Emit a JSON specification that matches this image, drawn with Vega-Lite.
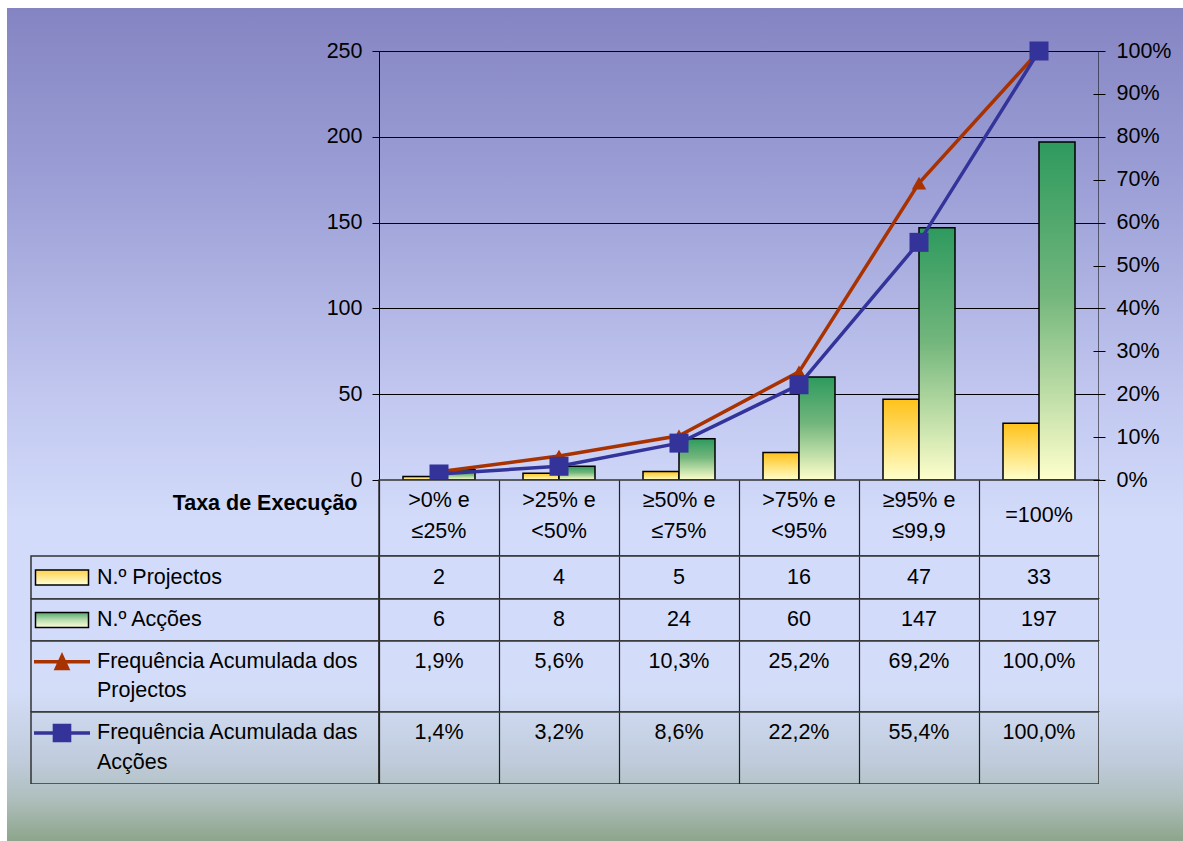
{
  "$schema": "https://vega.github.io/schema/vega-lite/v6.json",
  "background": "white",
  "padding": {"left": 7, "top": 8, "right": 0, "bottom": 0},
  "config": {
    "view": {"stroke": null},
    "font": "Liberation Sans",
    "text": {"font": "Liberation Sans", "color": "black", "fontSize": 21.5},
    "axis": {"labelFont": "Liberation Sans", "labelColor": "black"},
    "locale": {"number": {"decimal": ",", "thousands": ".", "grouping": [3], "currency": ["", " €"]}}
  },
  "datasets": {
    "counts": [
      {"cat": ">0% e\n≤25%", "serie": "N.º Projectos", "n": 2},
      {"cat": ">25% e\n<50%", "serie": "N.º Projectos", "n": 4},
      {"cat": "≥50% e\n≤75%", "serie": "N.º Projectos", "n": 5},
      {"cat": ">75% e\n<95%", "serie": "N.º Projectos", "n": 16},
      {"cat": "≥95% e\n≤99,9", "serie": "N.º Projectos", "n": 47},
      {"cat": "=100%", "serie": "N.º Projectos", "n": 33},
      {"cat": ">0% e\n≤25%", "serie": "N.º Acções", "n": 6},
      {"cat": ">25% e\n<50%", "serie": "N.º Acções", "n": 8},
      {"cat": "≥50% e\n≤75%", "serie": "N.º Acções", "n": 24},
      {"cat": ">75% e\n<95%", "serie": "N.º Acções", "n": 60},
      {"cat": "≥95% e\n≤99,9", "serie": "N.º Acções", "n": 147},
      {"cat": "=100%", "serie": "N.º Acções", "n": 197}
    ],
    "freq": [
      {"cat": ">0% e\n≤25%", "serie": "Frequência Acumulada dos Projectos", "f": 0.019},
      {"cat": ">25% e\n<50%", "serie": "Frequência Acumulada dos Projectos", "f": 0.056},
      {"cat": "≥50% e\n≤75%", "serie": "Frequência Acumulada dos Projectos", "f": 0.103},
      {"cat": ">75% e\n<95%", "serie": "Frequência Acumulada dos Projectos", "f": 0.252},
      {"cat": "≥95% e\n≤99,9", "serie": "Frequência Acumulada dos Projectos", "f": 0.692},
      {"cat": "=100%", "serie": "Frequência Acumulada dos Projectos", "f": 1.0},
      {"cat": ">0% e\n≤25%", "serie": "Frequência Acumulada das Acções", "f": 0.014},
      {"cat": ">25% e\n<50%", "serie": "Frequência Acumulada das Acções", "f": 0.032},
      {"cat": "≥50% e\n≤75%", "serie": "Frequência Acumulada das Acções", "f": 0.086},
      {"cat": ">75% e\n<95%", "serie": "Frequência Acumulada das Acções", "f": 0.222},
      {"cat": "≥95% e\n≤99,9", "serie": "Frequência Acumulada das Acções", "f": 0.554},
      {"cat": "=100%", "serie": "Frequência Acumulada das Acções", "f": 1.0}
    ],
    "legend": [
      {"row": "p", "line": "1", "t": "N.º Projectos"},
      {"row": "a", "line": "1", "t": "N.º Acções"},
      {"row": "fp", "line": "1", "t": "Frequência Acumulada dos"},
      {"row": "fp", "line": "2", "t": "Projectos"},
      {"row": "fa", "line": "1", "t": "Frequência Acumulada das"},
      {"row": "fa", "line": "2", "t": "Acções"}
    ]
  },
  "columns": 4,
  "spacing": 0,
  "bounds": "flush",
  "align": "each",
  "concat": [
    {"width": 24, "height": 43, "view": {"fill": {"gradient": "linear", "x1": 0, "y1": 0, "x2": 0, "y2": 1, "stops": [{"offset": 0, "color": "#8484C2"}, {"offset": 1, "color": "#8A8BC7"}]}}, "data": {"values": []}, "mark": "text", "encoding": {}},
    {"width": 348, "height": 43, "view": {"fill": {"gradient": "linear", "x1": 0, "y1": 0, "x2": 0, "y2": 1, "stops": [{"offset": 0, "color": "#8484C2"}, {"offset": 1, "color": "#8A8BC7"}]}}, "data": {"values": []}, "mark": "text", "encoding": {}},
    {"width": 720, "height": 43, "view": {"fill": {"gradient": "linear", "x1": 0, "y1": 0, "x2": 0, "y2": 1, "stops": [{"offset": 0, "color": "#8484C2"}, {"offset": 1, "color": "#8A8BC7"}]}}, "data": {"values": []}, "mark": "text", "encoding": {}},
    {"width": 84, "height": 43, "view": {"fill": {"gradient": "linear", "x1": 0, "y1": 0, "x2": 0, "y2": 1, "stops": [{"offset": 0, "color": "#8484C2"}, {"offset": 1, "color": "#8A8BC7"}]}}, "data": {"values": []}, "mark": "text", "encoding": {}},

    {"width": 24, "height": 429, "view": {"fill": {"gradient": "linear", "x1": 0, "y1": 0, "x2": 0, "y2": 1, "stops": [{"offset": 0, "color": "#8A8BC7"}, {"offset": 0.3473, "color": "#9EA2D8"}, {"offset": 0.8135, "color": "#C2C8F0"}, {"offset": 1, "color": "#CDD5F7"}]}}, "data": {"values": []}, "mark": "text", "encoding": {}},
    {"width": 348, "height": 429, "view": {"fill": {"gradient": "linear", "x1": 0, "y1": 0, "x2": 0, "y2": 1, "stops": [{"offset": 0, "color": "#8A8BC7"}, {"offset": 0.3473, "color": "#9EA2D8"}, {"offset": 0.8135, "color": "#C2C8F0"}, {"offset": 1, "color": "#CDD5F7"}]}}, "data": {"values": []}, "mark": "text", "encoding": {}},
    {
      "width": 720, "height": 429,
      "view": {"fill": {"gradient": "linear", "x1": 0, "y1": 0, "x2": 0, "y2": 1, "stops": [{"offset": 0, "color": "#8A8BC7"}, {"offset": 0.3473, "color": "#9EA2D8"}, {"offset": 0.8135, "color": "#C2C8F0"}, {"offset": 1, "color": "#CDD5F7"}]}},
      "layer": [
        {
          "data": {"name": "counts"},
          "layer": [
            {
              "transform": [{"filter": "datum.serie === 'N.º Projectos'"}],
              "mark": {"type": "bar", "fill": {"gradient": "linear", "x1": 0, "y1": 0, "x2": 0, "y2": 1, "stops": [{"offset": 0, "color": "#FFC21A"}, {"offset": 1, "color": "#FFFFCC"}]}, "stroke": "black", "strokeWidth": 1.5},
              "encoding": {
                "x": {"field": "cat", "type": "nominal", "scale": {"type": "band", "domain": [">0% e\n≤25%", ">25% e\n<50%", "≥50% e\n≤75%", ">75% e\n<95%", "≥95% e\n≤99,9", "=100%"], "paddingInner": 0, "paddingOuter": 0}, "axis": null},
                "xOffset": {"field": "serie", "type": "nominal", "scale": {"domain": ["N.º Projectos", "N.º Acções"], "paddingInner": 0, "paddingOuter": 0.667}},
                "y": {"field": "n", "type": "quantitative", "scale": {"domain": [0, 250], "nice": false}, "axis": {"orient": "left", "title": null, "values": [50, 100, 150, 200, 250], "tickSize": 7, "tickColor": "black", "labelPadding": 10, "labelFontSize": 21.5, "grid": true, "gridColor": "black", "gridWidth": 1, "domain": true, "domainColor": "black"}}
              }
            },
            {
              "transform": [{"filter": "datum.serie === 'N.º Acções'"}],
              "mark": {"type": "bar", "fill": {"gradient": "linear", "x1": 0, "y1": 0, "x2": 0, "y2": 1, "stops": [{"offset": 0, "color": "#2E9A5E"}, {"offset": 0.45, "color": "#72B67C"}, {"offset": 1, "color": "#FFFFCC"}]}, "stroke": "black", "strokeWidth": 1.5},
              "encoding": {
                "x": {"field": "cat", "type": "nominal", "scale": {"type": "band", "domain": [">0% e\n≤25%", ">25% e\n<50%", "≥50% e\n≤75%", ">75% e\n<95%", "≥95% e\n≤99,9", "=100%"], "paddingInner": 0, "paddingOuter": 0}, "axis": null},
                "xOffset": {"field": "serie", "type": "nominal", "scale": {"domain": ["N.º Projectos", "N.º Acções"], "paddingInner": 0, "paddingOuter": 0.667}},
                "y": {"field": "n", "type": "quantitative"}
              }
            }
          ]
        },
        {
          "data": {"name": "freq"},
          "layer": [
            {
              "transform": [{"filter": "datum.serie === 'Frequência Acumulada dos Projectos'"}],
              "mark": {"type": "line", "color": "#A83200", "strokeWidth": 3.5},
              "encoding": {
                "x": {"field": "cat", "type": "nominal", "scale": {"type": "band", "domain": [">0% e\n≤25%", ">25% e\n<50%", "≥50% e\n≤75%", ">75% e\n<95%", "≥95% e\n≤99,9", "=100%"], "paddingInner": 0, "paddingOuter": 0}, "axis": null},
                "y": {"field": "f", "type": "quantitative", "scale": {"domain": [0, 1], "nice": false}, "axis": {"orient": "right", "title": null, "labels": false, "ticks": false, "grid": false, "domain": true, "domainColor": "black", "offset": -0.5}}
              }
            },
            {
              "transform": [{"filter": "datum.serie === 'Frequência Acumulada dos Projectos'"}],
              "mark": {"type": "point", "shape": "triangle-up", "filled": true, "color": "#A83200", "size": 210, "opacity": 1},
              "encoding": {"x": {"field": "cat", "type": "nominal"}, "y": {"field": "f", "type": "quantitative"}}
            },
            {
              "transform": [{"filter": "datum.serie === 'Frequência Acumulada das Acções'"}],
              "mark": {"type": "line", "color": "#333399", "strokeWidth": 3.5},
              "encoding": {"x": {"field": "cat", "type": "nominal"}, "y": {"field": "f", "type": "quantitative"}}
            },
            {
              "transform": [{"filter": "datum.serie === 'Frequência Acumulada das Acções'"}],
              "mark": {"type": "point", "shape": "square", "filled": true, "color": "#333399", "size": 361, "opacity": 1},
              "encoding": {"x": {"field": "cat", "type": "nominal"}, "y": {"field": "f", "type": "quantitative"}}
            }
          ]
        }
      ],
      "resolve": {"scale": {"y": "independent"}, "axis": {"y": "independent"}}
    },
    {
      "width": 84, "height": 429,
      "view": {"fill": {"gradient": "linear", "x1": 0, "y1": 0, "x2": 0, "y2": 1, "stops": [{"offset": 0, "color": "#8A8BC7"}, {"offset": 0.3473, "color": "#9EA2D8"}, {"offset": 0.8135, "color": "#C2C8F0"}, {"offset": 1, "color": "#CDD5F7"}]}},
      "data": {"name": "freq"},
      "mark": {"type": "point", "opacity": 0, "size": 0},
      "encoding": {
        "y": {"field": "f", "type": "quantitative", "scale": {"domain": [0, 1], "nice": false, "zero": false}, "axis": {"orient": "right", "offset": -90, "title": null, "values": [0.1, 0.2, 0.3, 0.4, 0.5, 0.6, 0.7, 0.8, 0.9, 1], "format": ".0%", "tickSize": 12, "tickColor": "black", "tickWidth": 1, "labelPadding": 11, "labelFontSize": 21.5, "labelColor": "black", "labelFlush": false, "domain": false, "grid": false}}
      }
    },

    {"width": 24, "height": 76, "view": {"fill": {"gradient": "linear", "x1": 0, "y1": 0, "x2": 0, "y2": 1, "stops": [{"offset": 0, "color": "#CDD5F7"}, {"offset": 0.526, "color": "#D3DBFA"}, {"offset": 1, "color": "#D3DBFA"}]}}, "data": {"values": []}, "mark": "text", "encoding": {}},
    {
      "width": 348, "height": 76,
      "view": {"fill": {"gradient": "linear", "x1": 0, "y1": 0, "x2": 0, "y2": 1, "stops": [{"offset": 0, "color": "#CDD5F7"}, {"offset": 0.526, "color": "#D3DBFA"}, {"offset": 1, "color": "#D3DBFA"}]}},
      "data": {"values": []},
      "mark": {"type": "point", "opacity": 0},
      "encoding": {
        "y": {"datum": 0, "type": "quantitative", "scale": {"domain": [-1, 0], "nice": false, "zero": false}, "axis": {"orient": "left", "offset": -348, "title": null, "values": [0], "tickSize": 7, "tickColor": "black", "labelPadding": 10, "labelFontSize": 21.5, "labelColor": "black", "labelFlush": false, "domain": false, "grid": false}}
      }
    },
    {
      "width": 720, "height": 76,
      "view": {"fill": {"gradient": "linear", "x1": 0, "y1": 0, "x2": 0, "y2": 1, "stops": [{"offset": 0, "color": "#CDD5F7"}, {"offset": 0.526, "color": "#D3DBFA"}, {"offset": 1, "color": "#D3DBFA"}]}, "stroke": "#333333", "strokeWidth": 1.5},
      "data": {"name": "counts"},
      "transform": [{"filter": "datum.serie === 'N.º Projectos'"}],
      "encoding": {
        "x": {"field": "cat", "type": "nominal", "scale": {"type": "band", "domain": [">0% e\n≤25%", ">25% e\n<50%", "≥50% e\n≤75%", ">75% e\n<95%", "≥95% e\n≤99,9", "=100%"], "paddingInner": 0, "paddingOuter": 0}, "axis": {"orient": "bottom", "title": null, "labels": false, "ticks": false, "domain": false, "grid": true, "tickBand": "extent", "gridColor": "#222222", "gridWidth": 1.2}},
        "y": {"datum": "Taxa de Execução", "type": "nominal", "axis": {"orient": "left", "title": null, "ticks": false, "tickSize": 0, "domain": false, "labelPadding": 22, "labelOffset": -15, "labelFontWeight": "bold", "labelFontSize": 21.5, "labelLimit": 400, "labelColor": "black"}},
        "text": {"field": "cat", "type": "nominal"}
      },
      "layer": [
        {
          "transform": [{"filter": "datum.cat !== '=100%'"}],
          "mark": {"type": "text", "fontSize": 21.5, "lineBreak": "\n", "lineHeight": 31, "baseline": "middle", "dy": -17.5}
        },
        {
          "transform": [{"filter": "datum.cat === '=100%'"}],
          "mark": {"type": "text", "fontSize": 21.5, "baseline": "middle", "dy": -2}
        }
      ]
    },
    {
      "width": 84, "height": 76,
      "view": {"fill": {"gradient": "linear", "x1": 0, "y1": 0, "x2": 0, "y2": 1, "stops": [{"offset": 0, "color": "#CDD5F7"}, {"offset": 0.526, "color": "#D3DBFA"}, {"offset": 1, "color": "#D3DBFA"}]}},
      "data": {"values": []},
      "mark": {"type": "point", "opacity": 0},
      "encoding": {
        "y": {"datum": 0, "type": "quantitative", "scale": {"domain": [-1, 0], "nice": false, "zero": false}, "axis": {"orient": "right", "offset": -90, "title": null, "values": [0], "format": ".0%", "tickSize": 12, "tickColor": "black", "tickWidth": 1, "labelPadding": 11, "labelFontSize": 21.5, "labelColor": "black", "labelFlush": false, "domain": false, "grid": false}}
      }
    },

    {"width": 24, "height": 43, "view": {"fill": "#D3DBFA"}, "data": {"values": []}, "mark": "text", "encoding": {}},
    {
      "width": 348, "height": 43,
      "view": {"fill": "#D3DBFA", "stroke": "#333333", "strokeWidth": 1.5},
      "data": {"name": "legend"},
      "transform": [{"filter": "datum.row === 'p'"}],
      "layer": [
        {
          "mark": {"type": "point", "shape": "M-1,-0.283H1V0.283H-1Z", "size": 2809, "filled": true, "fill": {"gradient": "linear", "x1": 0, "y1": 0, "x2": 0, "y2": 1, "stops": [{"offset": 0, "color": "#FFD24A"}, {"offset": 1, "color": "#FFFFD8"}]}, "stroke": "black", "strokeWidth": 1.5, "opacity": 1},
          "encoding": {"x": {"datum": "sym", "type": "nominal", "scale": {"type": "point", "domain": ["sym", "txt"], "range": [31, 66], "padding": 0}, "axis": null}}
        },
        {
          "mark": {"type": "text", "align": "left", "baseline": "middle", "fontSize": 21.5},
          "encoding": {"x": {"datum": "txt", "type": "nominal"}, "text": {"field": "t", "type": "nominal"}}
        }
      ]
    },
    {
      "width": 720, "height": 43,
      "view": {"fill": "#D3DBFA", "stroke": "#333333", "strokeWidth": 1.5},
      "data": {"name": "counts"},
      "transform": [{"filter": "datum.serie === 'N.º Projectos'"}],
      "mark": {"type": "text", "fontSize": 21.5, "baseline": "middle"},
      "encoding": {
        "x": {"field": "cat", "type": "nominal", "scale": {"type": "band", "domain": [">0% e\n≤25%", ">25% e\n<50%", "≥50% e\n≤75%", ">75% e\n<95%", "≥95% e\n≤99,9", "=100%"], "paddingInner": 0, "paddingOuter": 0}, "axis": {"orient": "bottom", "title": null, "labels": false, "ticks": false, "domain": false, "grid": true, "tickBand": "extent", "gridColor": "#222222", "gridWidth": 1.2}},
        "text": {"field": "n", "type": "quantitative"}
      }
    },
    {"width": 84, "height": 43, "view": {"fill": "#D3DBFA"}, "data": {"values": []}, "mark": "text", "encoding": {}},

    {"width": 24, "height": 42, "view": {"fill": "#D3DBFA"}, "data": {"values": []}, "mark": "text", "encoding": {}},
    {
      "width": 348, "height": 42,
      "view": {"fill": "#D3DBFA", "stroke": "#333333", "strokeWidth": 1.5},
      "data": {"name": "legend"},
      "transform": [{"filter": "datum.row === 'a'"}],
      "layer": [
        {
          "mark": {"type": "point", "shape": "M-1,-0.283H1V0.283H-1Z", "size": 2809, "filled": true, "fill": {"gradient": "linear", "x1": 0, "y1": 0, "x2": 0, "y2": 1, "stops": [{"offset": 0, "color": "#58A86C"}, {"offset": 0.5, "color": "#B8DDB0"}, {"offset": 1, "color": "#FFFFD8"}]}, "stroke": "black", "strokeWidth": 1.5, "opacity": 1},
          "encoding": {"x": {"datum": "sym", "type": "nominal", "scale": {"type": "point", "domain": ["sym", "txt"], "range": [31, 66], "padding": 0}, "axis": null}}
        },
        {
          "mark": {"type": "text", "align": "left", "baseline": "middle", "fontSize": 21.5},
          "encoding": {"x": {"datum": "txt", "type": "nominal"}, "text": {"field": "t", "type": "nominal"}}
        }
      ]
    },
    {
      "width": 720, "height": 42,
      "view": {"fill": "#D3DBFA", "stroke": "#333333", "strokeWidth": 1.5},
      "data": {"name": "counts"},
      "transform": [{"filter": "datum.serie === 'N.º Acções'"}],
      "mark": {"type": "text", "fontSize": 21.5, "baseline": "middle"},
      "encoding": {
        "x": {"field": "cat", "type": "nominal", "scale": {"type": "band", "domain": [">0% e\n≤25%", ">25% e\n<50%", "≥50% e\n≤75%", ">75% e\n<95%", "≥95% e\n≤99,9", "=100%"], "paddingInner": 0, "paddingOuter": 0}, "axis": {"orient": "bottom", "title": null, "labels": false, "ticks": false, "domain": false, "grid": true, "tickBand": "extent", "gridColor": "#222222", "gridWidth": 1.2}},
        "text": {"field": "n", "type": "quantitative"}
      }
    },
    {"width": 84, "height": 42, "view": {"fill": "#D3DBFA"}, "data": {"values": []}, "mark": "text", "encoding": {}},

    {"width": 24, "height": 71, "view": {"fill": {"gradient": "linear", "x1": 0, "y1": 0, "x2": 0, "y2": 1, "stops": [{"offset": 0, "color": "#D3DCF9"}, {"offset": 0.69, "color": "#D3DDF8"}, {"offset": 1, "color": "#CDD8EF"}]}}, "data": {"values": []}, "mark": "text", "encoding": {}},
    {
      "width": 348, "height": 71,
      "view": {"fill": {"gradient": "linear", "x1": 0, "y1": 0, "x2": 0, "y2": 1, "stops": [{"offset": 0, "color": "#D3DCF9"}, {"offset": 0.69, "color": "#D3DDF8"}, {"offset": 1, "color": "#CDD8EF"}]}, "stroke": "#333333", "strokeWidth": 1.5},
      "data": {"name": "legend"},
      "transform": [{"filter": "datum.row === 'fp'"}],
      "layer": [
        {
          "transform": [{"filter": "datum.line === '1'"}],
          "mark": {"type": "point", "shape": "M-1,0H1M-0.2,0.24L0,-0.2L0.2,0.24Z", "size": 3136, "filled": true, "fill": "#A83200", "stroke": "#A83200", "strokeWidth": 3.5, "opacity": 1},
          "encoding": {
            "x": {"datum": "sym", "type": "nominal", "scale": {"type": "point", "domain": ["sym", "txt"], "range": [31, 66], "padding": 0}, "axis": null},
            "y": {"field": "line", "type": "nominal", "scale": {"type": "band", "domain": ["1", "2"], "paddingOuter": 0.2, "paddingInner": 0}, "axis": null}
          }
        },
        {
          "mark": {"type": "text", "align": "left", "baseline": "middle", "fontSize": 21.5},
          "encoding": {"x": {"datum": "txt", "type": "nominal"}, "y": {"field": "line", "type": "nominal"}, "text": {"field": "t", "type": "nominal"}}
        }
      ]
    },
    {
      "width": 720, "height": 71,
      "view": {"fill": {"gradient": "linear", "x1": 0, "y1": 0, "x2": 0, "y2": 1, "stops": [{"offset": 0, "color": "#D3DCF9"}, {"offset": 0.69, "color": "#D3DDF8"}, {"offset": 1, "color": "#CDD8EF"}]}, "stroke": "#333333", "strokeWidth": 1.5},
      "data": {"name": "freq"},
      "transform": [{"filter": "datum.serie === 'Frequência Acumulada dos Projectos'"}],
      "mark": {"type": "text", "fontSize": 21.5, "baseline": "middle"},
      "encoding": {
        "x": {"field": "cat", "type": "nominal", "scale": {"type": "band", "domain": [">0% e\n≤25%", ">25% e\n<50%", "≥50% e\n≤75%", ">75% e\n<95%", "≥95% e\n≤99,9", "=100%"], "paddingInner": 0, "paddingOuter": 0}, "axis": {"orient": "bottom", "title": null, "labels": false, "ticks": false, "domain": false, "grid": true, "tickBand": "extent", "gridColor": "#222222", "gridWidth": 1.2}},
        "y": {"datum": "1", "type": "nominal", "scale": {"type": "band", "domain": ["1", "2"], "paddingOuter": 0.2, "paddingInner": 0}, "axis": null},
        "text": {"field": "f", "type": "quantitative", "format": ".1%"}
      }
    },
    {"width": 84, "height": 71, "view": {"fill": {"gradient": "linear", "x1": 0, "y1": 0, "x2": 0, "y2": 1, "stops": [{"offset": 0, "color": "#D3DCF9"}, {"offset": 0.69, "color": "#D3DDF8"}, {"offset": 1, "color": "#CDD8EF"}]}}, "data": {"values": []}, "mark": "text", "encoding": {}},

    {"width": 24, "height": 72, "view": {"fill": {"gradient": "linear", "x1": 0, "y1": 0, "x2": 0, "y2": 1, "stops": [{"offset": 0, "color": "#CDD8EF"}, {"offset": 0.667, "color": "#C0CCDC"}, {"offset": 1, "color": "#B5C4C9"}]}}, "data": {"values": []}, "mark": "text", "encoding": {}},
    {
      "width": 348, "height": 72,
      "view": {"fill": {"gradient": "linear", "x1": 0, "y1": 0, "x2": 0, "y2": 1, "stops": [{"offset": 0, "color": "#CDD8EF"}, {"offset": 0.667, "color": "#C0CCDC"}, {"offset": 1, "color": "#B5C4C9"}]}, "stroke": "#333333", "strokeWidth": 1.5},
      "data": {"name": "legend"},
      "transform": [{"filter": "datum.row === 'fa'"}],
      "layer": [
        {
          "transform": [{"filter": "datum.line === '1'"}],
          "mark": {"type": "point", "shape": "M-1,0H1M-0.27,-0.27H0.27V0.27H-0.27Z", "size": 3136, "filled": true, "fill": "#333399", "stroke": "#333399", "strokeWidth": 3.5, "opacity": 1},
          "encoding": {
            "x": {"datum": "sym", "type": "nominal", "scale": {"type": "point", "domain": ["sym", "txt"], "range": [31, 66], "padding": 0}, "axis": null},
            "y": {"field": "line", "type": "nominal", "scale": {"type": "band", "domain": ["1", "2"], "paddingOuter": 0.2, "paddingInner": 0}, "axis": null}
          }
        },
        {
          "mark": {"type": "text", "align": "left", "baseline": "middle", "fontSize": 21.5},
          "encoding": {"x": {"datum": "txt", "type": "nominal"}, "y": {"field": "line", "type": "nominal"}, "text": {"field": "t", "type": "nominal"}}
        }
      ]
    },
    {
      "width": 720, "height": 72,
      "view": {"fill": {"gradient": "linear", "x1": 0, "y1": 0, "x2": 0, "y2": 1, "stops": [{"offset": 0, "color": "#CDD8EF"}, {"offset": 0.667, "color": "#C0CCDC"}, {"offset": 1, "color": "#B5C4C9"}]}, "stroke": "#333333", "strokeWidth": 1.5},
      "data": {"name": "freq"},
      "transform": [{"filter": "datum.serie === 'Frequência Acumulada das Acções'"}],
      "mark": {"type": "text", "fontSize": 21.5, "baseline": "middle"},
      "encoding": {
        "x": {"field": "cat", "type": "nominal", "scale": {"type": "band", "domain": [">0% e\n≤25%", ">25% e\n<50%", "≥50% e\n≤75%", ">75% e\n<95%", "≥95% e\n≤99,9", "=100%"], "paddingInner": 0, "paddingOuter": 0}, "axis": {"orient": "bottom", "title": null, "labels": false, "ticks": false, "domain": false, "grid": true, "tickBand": "extent", "gridColor": "#222222", "gridWidth": 1.2}},
        "y": {"datum": "1", "type": "nominal", "scale": {"type": "band", "domain": ["1", "2"], "paddingOuter": 0.2, "paddingInner": 0}, "axis": null},
        "text": {"field": "f", "type": "quantitative", "format": ".1%"}
      }
    },
    {"width": 84, "height": 72, "view": {"fill": {"gradient": "linear", "x1": 0, "y1": 0, "x2": 0, "y2": 1, "stops": [{"offset": 0, "color": "#CDD8EF"}, {"offset": 0.667, "color": "#C0CCDC"}, {"offset": 1, "color": "#B5C4C9"}]}}, "data": {"values": []}, "mark": "text", "encoding": {}},

    {"width": 24, "height": 57, "view": {"fill": {"gradient": "linear", "x1": 0, "y1": 0, "x2": 0, "y2": 1, "stops": [{"offset": 0, "color": "#B5C4C9"}, {"offset": 0.281, "color": "#AEBEBC"}, {"offset": 1, "color": "#8DA58B"}]}}, "data": {"values": []}, "mark": "text", "encoding": {}},
    {"width": 348, "height": 57, "view": {"fill": {"gradient": "linear", "x1": 0, "y1": 0, "x2": 0, "y2": 1, "stops": [{"offset": 0, "color": "#B5C4C9"}, {"offset": 0.281, "color": "#AEBEBC"}, {"offset": 1, "color": "#8DA58B"}]}}, "data": {"values": []}, "mark": "text", "encoding": {}},
    {"width": 720, "height": 57, "view": {"fill": {"gradient": "linear", "x1": 0, "y1": 0, "x2": 0, "y2": 1, "stops": [{"offset": 0, "color": "#B5C4C9"}, {"offset": 0.281, "color": "#AEBEBC"}, {"offset": 1, "color": "#8DA58B"}]}}, "data": {"values": []}, "mark": "text", "encoding": {}},
    {"width": 84, "height": 57, "view": {"fill": {"gradient": "linear", "x1": 0, "y1": 0, "x2": 0, "y2": 1, "stops": [{"offset": 0, "color": "#B5C4C9"}, {"offset": 0.281, "color": "#AEBEBC"}, {"offset": 1, "color": "#8DA58B"}]}}, "data": {"values": []}, "mark": "text", "encoding": {}}
  ]
}
